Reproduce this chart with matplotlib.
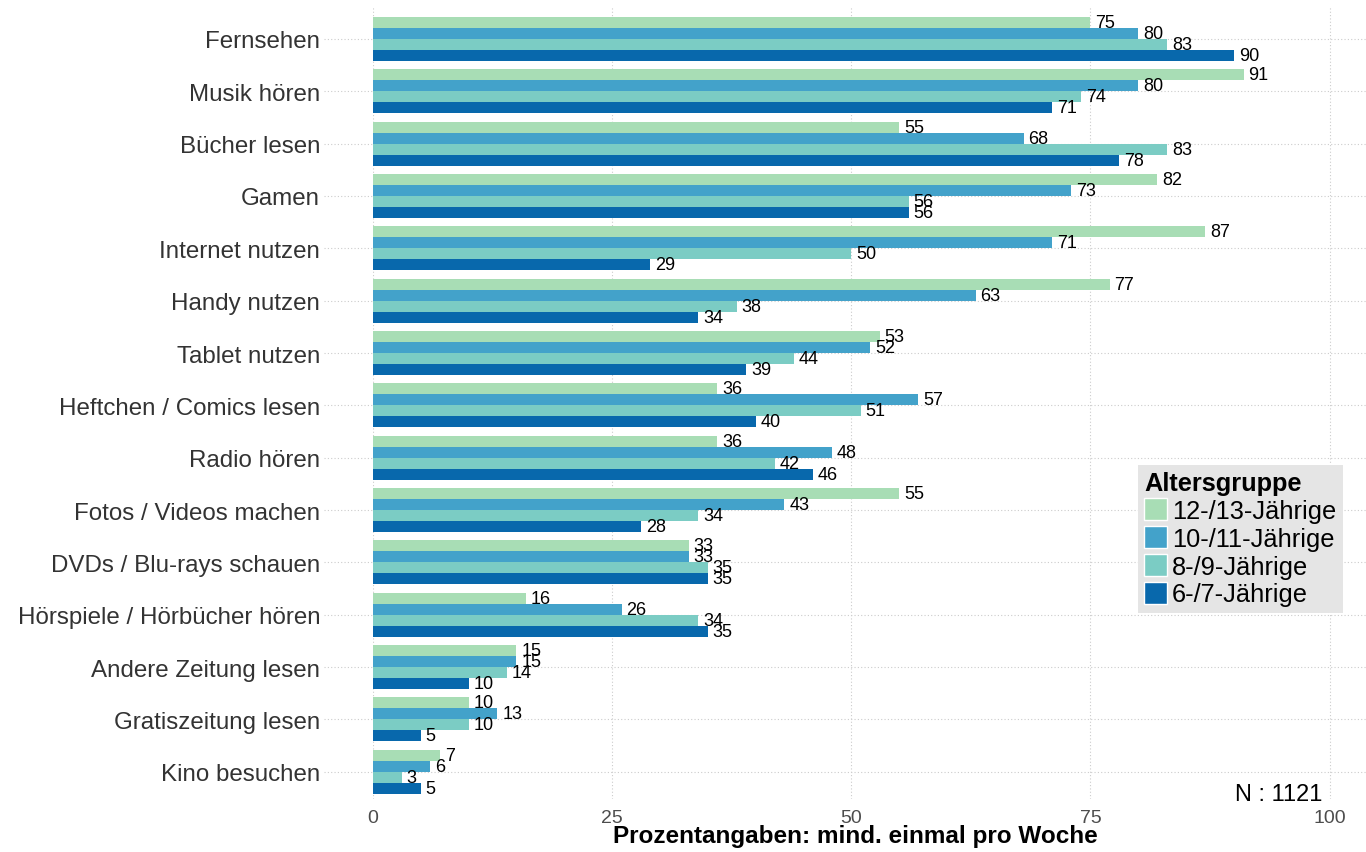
import numpy as np
import matplotlib.pyplot as plt
import matplotlib.transforms as mtransforms

plt.rcParams['font.family'] = ['Liberation Sans', 'DejaVu Sans']

categories = ['Fernsehen', 'Musik hören', 'Bücher lesen', 'Gamen', 'Internet nutzen',
              'Handy nutzen', 'Tablet nutzen', 'Heftchen / Comics lesen', 'Radio hören',
              'Fotos / Videos machen', 'DVDs / Blu-rays schauen', 'Hörspiele / Hörbücher hören',
              'Andere Zeitung lesen', 'Gratiszeitung lesen', 'Kino besuchen']
groups = ['12-/13-Jährige', '10-/11-Jährige', '8-/9-Jährige', '6-/7-Jährige']
age_12_13 = [75, 91, 55, 82, 87, 77, 53, 36, 36, 55, 33, 16, 15, 10, 7]
age_10_11 = [80, 80, 68, 73, 71, 63, 52, 57, 48, 43, 33, 26, 15, 13, 6]
age_8_9 = [83, 74, 83, 56, 50, 38, 44, 51, 42, 34, 35, 34, 14, 10, 3]
age_6_7 = [90, 71, 78, 56, 29, 34, 39, 40, 46, 28, 35, 35, 10, 5, 5]
series = [age_12_13, age_10_11, age_8_9, age_6_7]
colors = ['#a8ddb5', '#43a2ca', '#7bccc4', '#0868ac']

fig = plt.figure(figsize=(13.66, 8.53), dpi=100)
ax = fig.add_axes([373/1366, 53/853, 993/1366, 792/853])

n = len(categories)
ypos = np.arange(n)[::-1]
h = 0.21
offsets = [1.5*h, 0.5*h, -0.5*h, -1.5*h]
for vals, off, col, lab in zip(series, offsets, colors, groups):
    ax.barh(ypos + off, vals, height=h, color=col, label=lab, zorder=2)
    for y, v in zip(ypos, vals):
        ax.text(v + 0.5, y + off, str(v), ha='left', va='center', fontsize=13, color='black', zorder=3)

ax.set_xlim(0, 103.8)
ax.set_ylim(-0.52, n - 1 + 0.61)
ax.set_xticks([0, 25, 50, 75, 100])
ax.set_yticks(ypos)
ax.set_yticklabels(categories)
ax.grid(True, axis='x', linestyle=(0, (1, 2)), color='#cccccc', linewidth=0.8, zorder=0)
# dotted horizontal lines incl. the tick stub left of the panel
trans = mtransforms.blended_transform_factory(ax.transAxes, ax.transData)
for y in ypos:
    ax.plot([-0.049, 1], [y, y], transform=trans, clip_on=False, linestyle=(0, (1, 2)),
            color='#cccccc', linewidth=0.8, zorder=0)
for s in ax.spines.values():
    s.set_visible(False)
ax.tick_params(axis='y', length=0, labelsize=17.4, labelcolor='#333333', pad=38)
ax.tick_params(axis='x', length=0, labelsize=14, labelcolor='#4d4d4d', pad=7)
ax.set_xlabel('Prozentangaben: mind. einmal pro Woche', fontsize=17.5, fontweight='bold')
ax.xaxis.set_label_coords(0.4854, -0.031)

leg = ax.legend(loc='upper left', bbox_to_anchor=(0.770, 0.4217), title='Altersgruppe',
                fontsize=18.3, title_fontproperties={'weight': 'bold', 'size': 18.3},
                frameon=True, fancybox=False, facecolor='#e5e5e5', edgecolor='none', framealpha=1,
                handlelength=0.9, handleheight=0.95, handletextpad=0.2, labelspacing=0.12,
                borderpad=0.25, borderaxespad=0)
leg._legend_box.align = 'left'
for p in leg.get_patches():
    p.set_edgecolor('white')
    p.set_linewidth(1)

fig.text(1322/1366, (853-795)/853, 'N : 1121', ha='right', va='center', fontsize=17)

fig.savefig('out.png', dpi=100)
